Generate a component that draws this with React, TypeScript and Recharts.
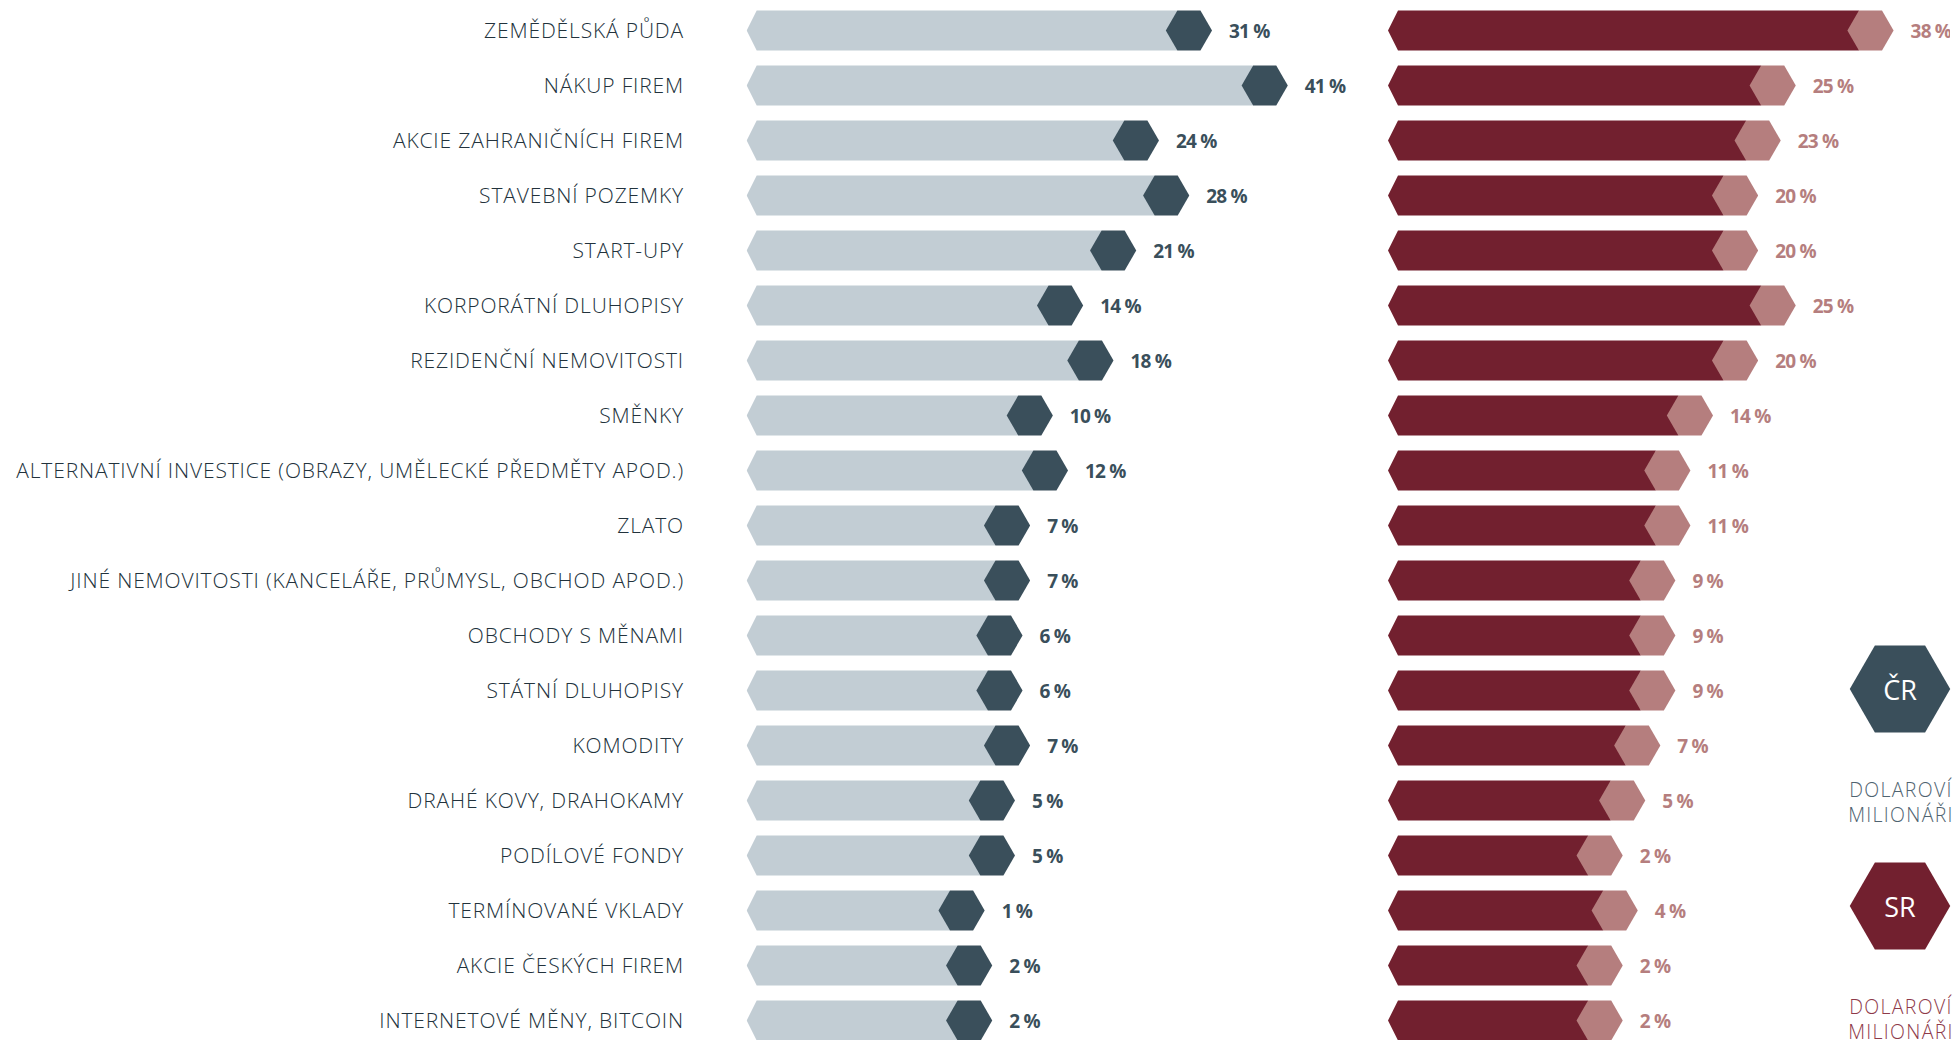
import React from "react";
import { BarChart, Bar, XAxis, YAxis } from "recharts";

const categories = [
  "ZEMĚDĚLSKÁ PŮDA",
  "NÁKUP FIREM",
  "AKCIE ZAHRANIČNÍCH FIREM",
  "STAVEBNÍ POZEMKY",
  "START-UPY",
  "KORPORÁTNÍ DLUHOPISY",
  "REZIDENČNÍ NEMOVITOSTI",
  "SMĚNKY",
  "ALTERNATIVNÍ INVESTICE (OBRAZY, UMĚLECKÉ PŘEDMĚTY APOD.)",
  "ZLATO",
  "JINÉ NEMOVITOSTI (KANCELÁŘE, PRŮMYSL, OBCHOD APOD.)",
  "OBCHODY S MĚNAMI",
  "STÁTNÍ DLUHOPISY",
  "KOMODITY",
  "DRAHÉ KOVY, DRAHOKAMY",
  "PODÍLOVÉ FONDY",
  "TERMÍNOVANÉ VKLADY",
  "AKCIE ČESKÝCH FIREM",
  "INTERNETOVÉ MĚNY, BITCOIN",
];
const crValues = [31, 41, 24, 28, 21, 14, 18, 10, 12, 7, 7, 6, 6, 7, 5, 5, 1, 2, 2];
const srValues = [38, 25, 23, 20, 20, 25, 20, 14, 11, 11, 9, 9, 9, 7, 5, 2, 4, 2, 2];
const legendLabels = ["ČR", "SR"];
const legendCaption = ["DOLAROVÍ", "MILIONÁŘI"];

const LEFT_MIN = -30.4;
const LEFT_MAX = 50;
const RIGHT_MIN = -29.2;
const RIGHT_MAX = 45.5;

const data = categories.map((name, i) => ({ name, cr: crValues[i], sr: srValues[i] }));

const FONT = "'Open Sans', sans-serif";

const HexBar = (props: any) => {
  const { x, y, width, height, payload, barColor, hexColor, textColor, valueKey } = props;
  if (x == null || y == null) return null;
  const h = height;
  const cy = y + h / 2;
  const xEnd = x + width;
  const s = h / Math.sqrt(3);
  const tip = s / 2;
  const hexLeft = xEnd - 2 * s;
  const bar = `${x},${cy} ${x + 10},${y} ${hexLeft + tip},${y} ${hexLeft + tip},${y + h} ${x + 10},${y + h}`;
  const hex = `${hexLeft},${cy} ${hexLeft + tip},${y} ${xEnd - tip},${y} ${xEnd},${cy} ${xEnd - tip},${y + h} ${hexLeft + tip},${y + h}`;
  return (
    <g>
      <polygon points={bar} fill={barColor} />
      <polygon points={hex} fill={hexColor} />
      <text
        x={xEnd + 17}
        y={cy}
        dominantBaseline="central"
        fontFamily={FONT}
        fontWeight={700}
        fontSize={19}
        letterSpacing={-0.8}
        fill={textColor}
      >
        {`${payload[valueKey]} %`}
      </text>
    </g>
  );
};

const CategoryTick = (props: any) => {
  const { x, y, payload } = props;
  return (
    <text
      x={x}
      y={y}
      textAnchor="end"
      dominantBaseline="central"
      fontFamily={FONT}
      fontWeight={300}
      fontSize={21}
      letterSpacing={0.85}
      fill="#22323c"
    >
      {payload.value}
    </text>
  );
};

const hexPoints = (cx: number, cy: number, h: number) => {
  const s = h / Math.sqrt(3);
  return `${cx - s},${cy} ${cx - s / 2},${cy - h / 2} ${cx + s / 2},${cy - h / 2} ${cx + s},${cy} ${cx + s / 2},${cy + h / 2} ${cx - s / 2},${cy + h / 2}`;
};

export default function App() {
  const legendColors = ["#3a4f5b", "#72202f"];
  const captionColors = ["#4f6370", "#8e3a4a"];
  const legendY = [689, 906];
  return (
    <div
      style={{
        position: "absolute",
        left: 0,
        top: 0,
        width: 1960,
        height: 1040,
        overflow: "hidden",
        background: "#ffffff",
      }}
    >
      <div style={{ position: "absolute", left: 0, top: 0 }}>
        <BarChart
          layout="vertical"
          width={1386}
          height={1050}
          data={data}
          margin={{ top: 2.5, right: 30, bottom: 2.5, left: 0 }}
          barSize={40}
        >
          <XAxis type="number" domain={[LEFT_MIN, LEFT_MAX]} hide allowDataOverflow />
          <YAxis
            type="category"
            dataKey="name"
            width={746.7}
            axisLine={false}
            tickLine={false}
            tickSize={0}
            tickMargin={62.7}
            interval={0}
            tick={<CategoryTick />}
          />
          <Bar
            dataKey={(d: any) => [LEFT_MIN, d.cr]}
            isAnimationActive={false}
            shape={(p: any) => (
              <HexBar {...p} barColor="#c2cdd4" hexColor="#3a4f5b" textColor="#3a4f5b" valueKey="cr" />
            )}
          />
        </BarChart>
      </div>
      <div style={{ position: "absolute", left: 1388, top: 0 }}>
        <BarChart
          layout="vertical"
          width={572}
          height={1050}
          data={data}
          margin={{ top: 2.5, right: 10, bottom: 2.5, left: 0 }}
          barSize={40}
        >
          <XAxis type="number" domain={[RIGHT_MIN, RIGHT_MAX]} hide allowDataOverflow />
          <YAxis type="category" dataKey="name" hide width={0} />
          <Bar
            dataKey={(d: any) => [RIGHT_MIN, d.sr]}
            isAnimationActive={false}
            shape={(p: any) => (
              <HexBar {...p} barColor="#72202f" hexColor="#b57e7e" textColor="#b57e7e" valueKey="sr" />
            )}
          />
        </BarChart>
      </div>
      <svg
        width={1960}
        height={1040}
        style={{ position: "absolute", left: 0, top: 0, pointerEvents: "none" }}
      >
        {legendLabels.map((lab, i) => (
          <g key={lab}>
            <polygon points={hexPoints(1900, legendY[i], 87)} fill={legendColors[i]} />
            <text
              x={1900}
              y={legendY[i]}
              textAnchor="middle"
              dominantBaseline="central"
              fontFamily={FONT}
              fontSize={27}
              fill="#ffffff"
            >
              {lab}
            </text>
            {legendCaption.map((c, j) => (
              <text
                key={c}
                x={1901}
                y={legendY[i] + 100 + j * 25}
                textAnchor="middle"
                dominantBaseline="central"
                fontFamily={FONT}
                fontWeight={300}
                fontSize={19.5}
                letterSpacing={1.3}
                fill={captionColors[i]}
              >
                {c}
              </text>
            ))}
          </g>
        ))}
      </svg>
    </div>
  );
}
